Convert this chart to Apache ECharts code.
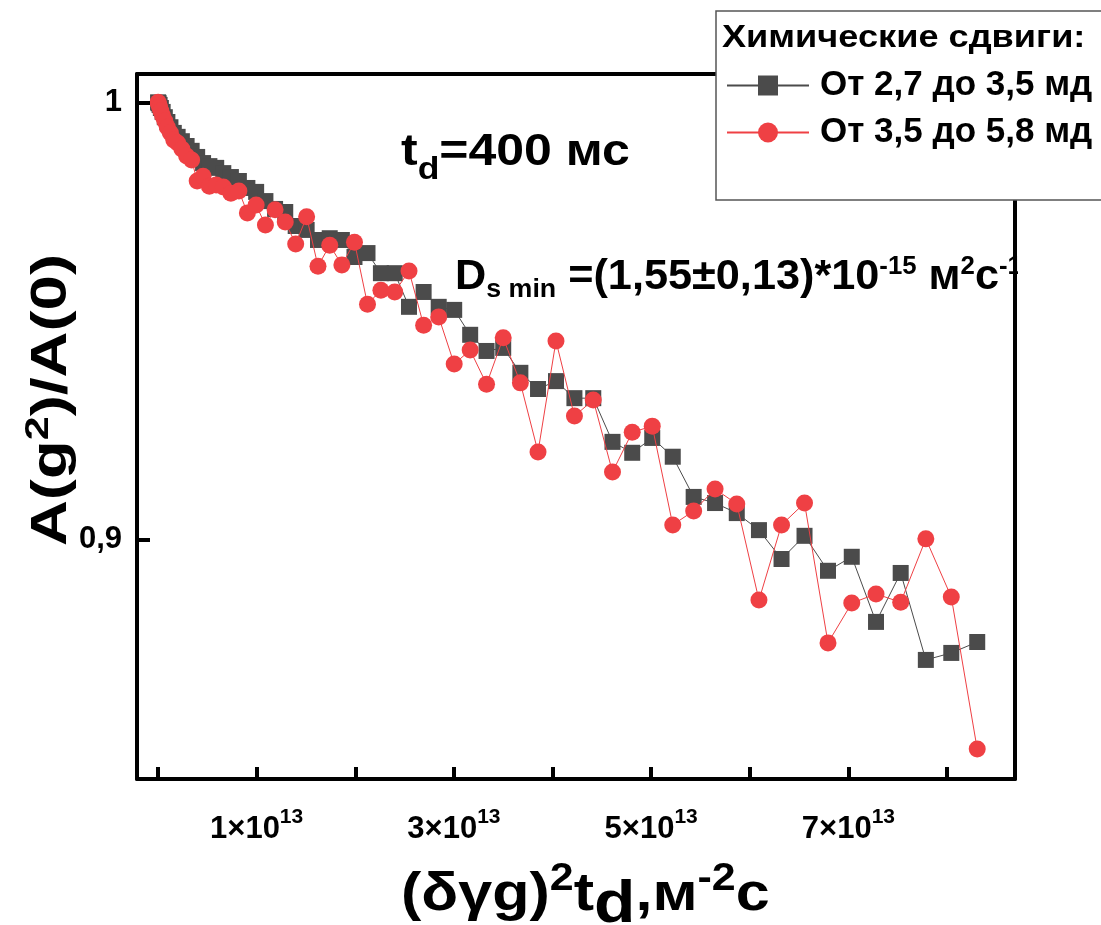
<!DOCTYPE html>
<html>
<head>
<meta charset="utf-8">
<script src="https://cdn.jsdelivr.net/npm/echarts@6/dist/echarts.min.js"></script>
<style>
  html, body { margin: 0; padding: 0; background: #ffffff; }
  #chart { width: 1101px; height: 925px; }
</style>
</head>
<body>
<div id="chart"></div>
<script>
// (δγg)^2·t_d in units of 1e13 m^-2·s
const xValues = [
  0.001, 0.006, 0.016, 0.029, 0.047, 0.069, 0.095, 0.126, 0.160, 0.199,
  0.242, 0.290, 0.341, 0.397, 0.457, 0.521, 0.590, 0.662, 0.739, 0.820,
  0.906, 0.995, 1.089, 1.187, 1.290, 1.396, 1.507, 1.622, 1.741, 1.864,
  1.992, 2.124, 2.260, 2.400, 2.545, 2.693, 2.846, 3.003, 3.165, 3.331,
  3.500, 3.674, 3.853, 4.035, 4.222, 4.413, 4.608, 4.808, 5.011, 5.219,
  5.431, 5.648, 5.868, 6.093, 6.322, 6.555, 6.793, 7.034, 7.280, 7.530,
  7.785, 8.043, 8.306
];

// A(g^2)/A(0), chemical shifts 2.7–3.5 ppm
const decayLow = [
  1.0000, 0.9998, 0.9994, 0.9987, 0.9978, 0.9966, 0.9955, 0.9943, 0.9930, 0.9921,
  0.9911, 0.9900, 0.9889, 0.9875, 0.9861, 0.9854, 0.9850, 0.9838, 0.9829, 0.9820,
  0.9804, 0.9795, 0.9774, 0.9756, 0.9749, 0.9717, 0.9708, 0.9685, 0.9689, 0.9685,
  0.9646, 0.9655, 0.9609, 0.9609, 0.9532, 0.9566, 0.9532, 0.9525, 0.9468, 0.9431,
  0.9438, 0.9381, 0.9344, 0.9362, 0.9323, 0.9323, 0.9223, 0.9198, 0.9232, 0.9189,
  0.9097, 0.9083, 0.9060, 0.9021, 0.8955, 0.9008, 0.8928, 0.8960, 0.8811, 0.8923,
  0.8724, 0.8740, 0.8765
];

// A(g^2)/A(0), chemical shifts 3.5–5.8 ppm
const decayHigh = [
  1.0000, 0.9996, 0.9989, 0.9980, 0.9969, 0.9957, 0.9943, 0.9930, 0.9914, 0.9907,
  0.9893, 0.9877, 0.9868, 0.9820, 0.9831, 0.9808, 0.9811, 0.9806, 0.9792, 0.9797,
  0.9747, 0.9765, 0.9719, 0.9754, 0.9726, 0.9676, 0.9738, 0.9625, 0.9673, 0.9628,
  0.9680, 0.9538, 0.9570, 0.9566, 0.9614, 0.9490, 0.9509, 0.9401, 0.9433, 0.9355,
  0.9461, 0.9358, 0.9200, 0.9454, 0.9282, 0.9319, 0.9154, 0.9245, 0.9259, 0.9033,
  0.9065, 0.9115, 0.9081, 0.8861, 0.9033, 0.9083, 0.8763, 0.8854, 0.8875, 0.8856,
  0.9001, 0.8868, 0.8520
];

const seriesNames = ['От 2,7 до 3,5 мд', 'От 3,5 до 5,8 мд'];
const xTickValues = [0, 1, 2, 3, 4, 5, 6, 7, 8];
const xLabelValues = [1, 3, 5, 7];
const yTickValues = [0.9, 1];

const FONT = '"Liberation Sans", Arial, Helvetica, sans-serif';
const INK = '#000000';
const GREY = '#4b4b4b';
const RED = '#ef4044';

function pairs(xs, ys) {
  return xs.map((x, i) => [x, ys[i]]);
}

function tok(size, extra) {
  return Object.assign({ fontSize: size, fontWeight: 'bold', fontFamily: FONT, color: INK, fill: INK }, extra || {});
}

const X_MIN = -0.213, X_MAX = 8.689;
const Y_MIN = 0.84515, Y_MAX = 1.00648;

const frameLine = { show: true, onZero: false, lineStyle: { color: INK, width: 4 } };

const option = {
  animation: false,
  backgroundColor: '#ffffff',
  grid: { left: 137, right: 86, top: 74, bottom: 146, containLabel: false },
  xAxis: [
    {
      type: 'value', position: 'bottom', min: X_MIN, max: X_MAX, z: 30,
      axisLine: frameLine,
      axisTick: { show: true, inside: true, length: 12, customValues: xTickValues,
                  lineStyle: { color: INK, width: 4 } },
      axisLabel: {
        show: true, margin: 34, customValues: xLabelValues,
        formatter: v => `{b|${v}×10}{s|13}`,
        rich: {
          b: tok(31, { lineHeight: 33 }),
          s: tok(21, { lineHeight: 23, padding: [0, 0, 24, 0] })
        }
      },
      splitLine: { show: false }
    },
    {
      type: 'value', position: 'top', min: X_MIN, max: X_MAX, z: 30,
      axisLine: frameLine, axisTick: { show: false }, axisLabel: { show: false },
      splitLine: { show: false }
    }
  ],
  yAxis: [
    {
      type: 'value', position: 'left', min: Y_MIN, max: Y_MAX, z: 30,
      axisLine: frameLine,
      axisTick: { show: true, inside: true, length: 13, customValues: yTickValues,
                  lineStyle: { color: INK, width: 4 } },
      axisLabel: {
        show: true, margin: 15, customValues: yTickValues,
        formatter: v => String(v).replace('.', ','),
        fontSize: 31, fontWeight: 'bold', fontFamily: FONT, color: INK
      },
      splitLine: { show: false }
    },
    {
      type: 'value', position: 'right', min: Y_MIN, max: Y_MAX, z: 30,
      axisLine: frameLine, axisTick: { show: false }, axisLabel: { show: false },
      splitLine: { show: false }
    }
  ],
  legend: {
    orient: 'vertical', left: 721, top: 61, z: 50,
    itemWidth: 82, itemHeight: 25, itemGap: 8,
    selectedMode: false,
    data: seriesNames,
    textStyle: { fontSize: 35, fontWeight: 'bold', fontFamily: FONT, color: INK,
                 lineHeight: 39, padding: [0, 0, 0, 6] }
  },
  series: [
    {
      name: seriesNames[0], type: 'line', xAxisIndex: 0, yAxisIndex: 0,
      data: pairs(xValues, decayLow),
      symbol: 'rect', symbolSize: 16,
      itemStyle: { color: GREY },
      lineStyle: { color: GREY, width: 1 },
      z: 2
    },
    {
      name: seriesNames[1], type: 'line', xAxisIndex: 0, yAxisIndex: 0,
      data: pairs(xValues, decayHigh),
      symbol: 'circle', symbolSize: 17,
      itemStyle: { color: RED },
      lineStyle: { color: RED, width: 1 },
      z: 3
    }
  ],
  graphic: [
    // t_d annotation
    {
      type: 'text', x: 401, y: 153, scaleX: 1.11, z: 10,
      style: {
        text: '{m|t}{s|d}{m|=400 мс}',
        align: 'left', verticalAlign: 'middle',
        textAlign: 'left', textVerticalAlign: 'middle',
        rich: {
          m: tok(45, { lineHeight: 50 }),
          s: tok(32, { lineHeight: 34, padding: [34, 0, 0, 0] })
        }
      }
    },
    // diffusion coefficient annotation
    {
      type: 'text', x: 455, y: 277, scaleX: 1.03, z: 10,
      style: {
        text: '{m|D}{s|s min}{m| =(1,55±0,13)*10}{p|-15}{m| м}{p|2}{m|с}{p|-1}',
        align: 'left', verticalAlign: 'middle',
        textAlign: 'left', textVerticalAlign: 'middle',
        rich: {
          m: tok(42, { lineHeight: 46 }),
          s: tok(26, { lineHeight: 28, padding: [26, 0, 0, 0] }),
          p: tok(25, { lineHeight: 27, padding: [0, 0, 20, 0] })
        }
      }
    },
    // keeps the annotation inside the frame on the right
    {
      type: 'rect', z: 20,
      shape: { x: 1018, y: 235, width: 83, height: 85 },
      style: { fill: '#ffffff' }
    },
    // x axis title
    {
      type: 'text', x: 401, y: 895, scaleX: 1.13, z: 10,
      style: {
        text: '{m|(δγg)}{p|2}{m|t}{d|d}{m|,м}{p|-2}{m|c}',
        align: 'left', verticalAlign: 'middle',
        textAlign: 'left', textVerticalAlign: 'middle',
        rich: {
          m: tok(54, { lineHeight: 60 }),
          d: tok(60, { lineHeight: 62, padding: [20, 0, 0, 0] }),
          p: tok(38, { lineHeight: 40, padding: [0, 0, 30, 0] })
        }
      }
    },
    // y axis title
    {
      type: 'text', x: 52, y: 400, rotation: Math.PI / 2, scaleX: 1.27, z: 10,
      style: {
        text: '{m|A(g}{p|2}{m|)/A(0)}',
        align: 'center', verticalAlign: 'middle',
        textAlign: 'center', textVerticalAlign: 'middle',
        rich: {
          m: tok(50, { lineHeight: 56 }),
          p: tok(34, { lineHeight: 36, padding: [0, 0, 26, 0] })
        }
      }
    },
    // legend frame
    {
      type: 'rect', z: 40,
      shape: { x: 716, y: 11, width: 400, height: 189 },
      style: { fill: '#ffffff', stroke: '#555555', lineWidth: 1.5 }
    },
    // legend heading
    {
      type: 'text', x: 722, y: 38, scaleX: 1.13, z: 45,
      style: {
        text: 'Химические сдвиги:',
        fontSize: 32, fontWeight: 'bold', fontFamily: FONT, fill: INK,
        align: 'left', verticalAlign: 'middle',
        textAlign: 'left', textVerticalAlign: 'middle'
      }
    }
  ]
};

const chart = echarts.init(document.getElementById('chart'), null, { renderer: 'canvas' });
chart.setOption(option);
</script>
</body>
</html>
